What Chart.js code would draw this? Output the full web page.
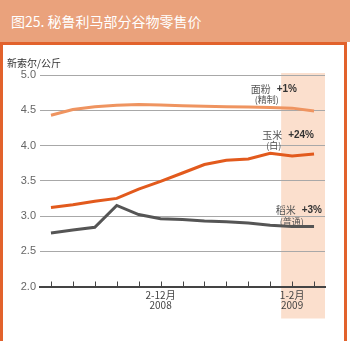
<!DOCTYPE html>
<html>
<head>
<meta charset="utf-8">
<script src="https://cdn.jsdelivr.net/npm/chart.js@4"></script>
<style>
    body { margin: 0; width: 350px; height: 341px; overflow: hidden; background: #fff;
           font-family: "Noto Sans CJK SC", "Liberation Sans", sans-serif; }
    #title { position: absolute; left: 0; top: 0; width: 350px; height: 42px; background: #EAA27C;
             color: #fff; font-size: 14px; line-height: 42px; padding-left: 11px; box-sizing: border-box; }
    #box { position: absolute; left: 0; top: 42px; width: 347px; height: 310px; box-sizing: border-box;
           border: 3px solid #E2622C; border-bottom: none; }
    #preciosChart { position: absolute; left: 0; top: 0; }
</style>
</head>
<body>
<div id="title">图25. 秘鲁利马部分谷物零售价</div>
<div id="box"><canvas id="preciosChart" width="341" height="296"></canvas></div>
<script>
// Feb 2008 .. Feb 2009, nuevos soles per kg
const months = ["2008-02", "2008-03", "2008-04", "2008-05", "2008-06", "2008-07", "2008-08",
                "2008-09", "2008-10", "2008-11", "2008-12", "2009-01", "2009-02"];
const harina = [4.43, 4.51, 4.55, 4.57, 4.58, 4.575, 4.565, 4.555, 4.55, 4.545, 4.54, 4.53, 4.49];
const maiz   = [3.12, 3.16, 3.21, 3.25, 3.38, 3.49, 3.61, 3.73, 3.79, 3.81, 3.89, 3.85, 3.88];
const arroz  = [2.76, 2.80, 2.84, 3.15, 3.02, 2.96, 2.95, 2.93, 2.92, 2.90, 2.87, 2.85, 2.85];
const seriesNames = ["面粉", "玉米", "稻米"];
const seriesChange = ["+1%", "+24%", "+3%"];
const seriesNotes = ["(精制)", "(白)", "(普通)"];
const periodLabels = ["", "", "", "", "", ["2-12月", "2008"], "", "", "", "", "", ["1-2月", "2009"], ""];
const yTicks = [2.0, 2.5, 3.0, 3.5, 4.0, 4.5, 5.0];

const extras = {
    id: "extras",
    beforeDraw(chart) {
        const { ctx, chartArea, scales } = chart;
        // 2009 shaded band, behind grid and labels
        const x0 = scales.x.getPixelForValue(10.5);
        const x1 = scales.x.getPixelForValue(12.5);
        ctx.save();
        ctx.fillStyle = "#FBDFCD";
        ctx.fillRect(x0, chartArea.top - 2, x1 - x0, chartArea.bottom - chartArea.top + 34);
        ctx.restore();
    },
    afterDatasetsDraw(chart) {
        const { ctx, chartArea, scales } = chart;
        ctx.save();
        // tick marks pointing up
        ctx.strokeStyle = "#444";
        ctx.lineWidth = 1;
        for (let i = 0; i < months.length; i++) {
            const px = Math.round(scales.x.getPixelForTick(i)) + 0.5;
            ctx.beginPath();
            ctx.moveTo(px, chartArea.bottom);
            ctx.lineTo(px, chartArea.bottom - 5);
            ctx.stroke();
        }
        // unit label
        ctx.fillStyle = "#333";
        ctx.font = "10px 'Noto Sans CJK SC'";
        ctx.textBaseline = "middle";
        ctx.textAlign = "left";
        ctx.fillText("新索尔/公斤", 4, 18);
        // series labels
        const rights = [chartArea.right - 28, chartArea.right - 11, chartArea.right - 3];
        const lifts = [22, 19, 16];
        chart.data.datasets.forEach((ds, i) => {
            const yLast = scales.y.getPixelForValue(ds.data[ds.data.length - 1]);
            const y = yLast - lifts[i];
            ctx.textAlign = "right";
            ctx.font = "bold 10px 'Liberation Sans'";
            ctx.fillStyle = "#333";
            ctx.fillText(seriesChange[i], rights[i], y);
            const pw = ctx.measureText(seriesChange[i]).width;
            ctx.font = "10px 'Noto Sans CJK SC'";
            ctx.fillStyle = "#555";
            ctx.fillText(seriesNames[i], rights[i] - pw - 6, y);
            const nw = ctx.measureText(seriesNames[i]).width;
            ctx.textAlign = "left";
            ctx.font = "9px 'Noto Sans CJK SC'";
            ctx.fillText(seriesNotes[i], rights[i] - pw - 6 - nw + 4, y + 11);
        });
        ctx.restore();
    }
};

const ctx = document.getElementById("preciosChart").getContext("2d");

new Chart(ctx, {
    type: "line",
    data: {
        labels: months,
        datasets: [
            { label: seriesNames[0], data: harina, borderColor: "#EF9460", borderWidth: 3 },
            { label: seriesNames[1], data: maiz, borderColor: "#E25A1D", borderWidth: 3 },
            { label: seriesNames[2], data: arroz, borderColor: "#555555", borderWidth: 3 }
        ]
    },
    options: {
        responsive: false,
        animation: false,
        devicePixelRatio: 1,
        layout: { padding: { top: 30, right: 19, left: 0, bottom: 0 } },
        elements: { point: { radius: 0 }, line: { tension: 0 } },
        plugins: { legend: { display: false }, tooltip: { enabled: false } },
        scales: {
            x: {
                offset: true,
                grid: { display: true, offset: false, drawOnChartArea: false, drawTicks: false },
                border: { display: true, color: "#444", width: 2 },
                ticks: {
                    autoSkip: false,
                    maxRotation: 0,
                    padding: 4,
                    color: "#444",
                    font: { family: "'Noto Sans CJK SC'", size: 10, lineHeight: 1.0 },
                    callback: (v, i) => periodLabels[i]
                },
                afterFit: (s) => { s.height = 54.5; }
            },
            y: {
                min: yTicks[0],
                max: yTicks[yTicks.length - 1],
                afterBuildTicks: (s) => { s.ticks = yTicks.map(v => ({ value: v })); },
                grid: { color: "#A8A8A8", lineWidth: 1, drawTicks: false },
                border: { display: false },
                ticks: {
                    padding: 4,
                    color: "#666",
                    font: { family: "'Liberation Sans'", size: 11 },
                    callback: (v) => Number(v).toFixed(1)
                },
                afterFit: (s) => { s.width = 37; }
            }
        }
    },
    plugins: [extras]
});
</script>
</body>
</html>
